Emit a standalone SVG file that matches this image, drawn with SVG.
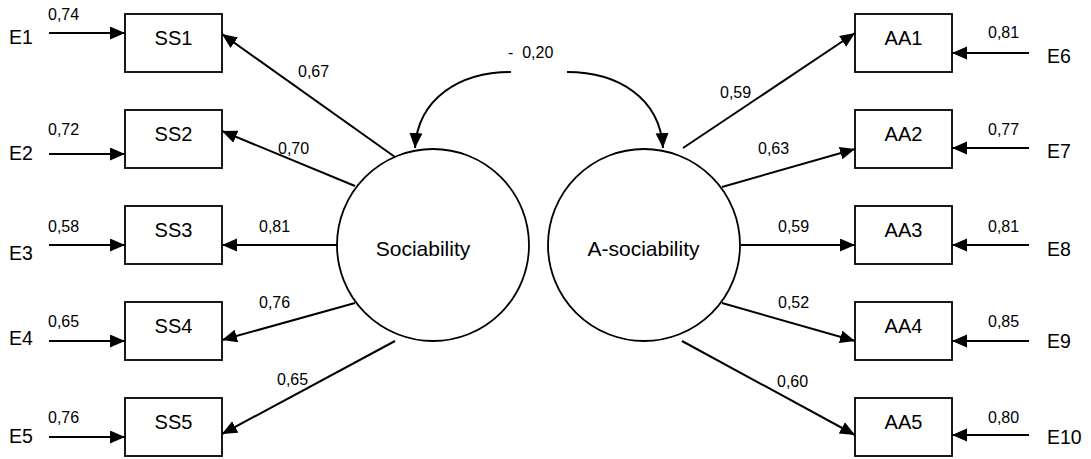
<svg xmlns="http://www.w3.org/2000/svg" width="1091" height="459" viewBox="0 0 1091 459">
<style>
  .box { fill: #fff; stroke: #000; stroke-width: 1.8; }
  .lat { fill: #fff; stroke: #000; stroke-width: 1.8; }
  .ln { fill: none; stroke: #000; stroke-width: 2; marker-end: url(#ah); }
  .t { font-family: "Liberation Sans", Arial, sans-serif; fill: #000; }
  .nl { font-size: 20px; text-anchor: middle; }
  .el { font-size: 19.5px; }
  .cl { font-size: 21px; text-anchor: middle; }
  .co { font-size: 16px; white-space: pre; }
</style>
<defs>
  <marker id="ah" markerUnits="userSpaceOnUse" markerWidth="16" markerHeight="14" refX="15" refY="6.5" orient="auto">
    <path d="M0,0 L15,6.5 L0,13 z" fill="#000"/>
  </marker>
</defs>
<rect width="1091" height="459" fill="#fff"/>

<g id="connectors">
  <!-- error arrows left -->
  <line class="ln" x1="49" y1="33" x2="125" y2="33"/>
  <line class="ln" x1="49" y1="154" x2="125" y2="154"/>
  <line class="ln" x1="49" y1="245" x2="125" y2="245"/>
  <line class="ln" x1="49" y1="341" x2="125" y2="341"/>
  <line class="ln" x1="49" y1="437" x2="125" y2="437"/>
  <!-- error arrows right -->
  <line class="ln" x1="1029" y1="53" x2="952" y2="53"/>
  <line class="ln" x1="1029" y1="148" x2="952" y2="148"/>
  <line class="ln" x1="1029" y1="245" x2="952" y2="245"/>
  <line class="ln" x1="1029" y1="341" x2="952" y2="341"/>
  <line class="ln" x1="1029" y1="435" x2="952" y2="435"/>
  <!-- loadings left -->
  <line class="ln" x1="395" y1="157" x2="222" y2="34"/>
  <line class="ln" x1="355" y1="186" x2="222" y2="131"/>
  <line class="ln" x1="337" y1="245" x2="222" y2="245"/>
  <line class="ln" x1="355" y1="303" x2="222" y2="340"/>
  <line class="ln" x1="395" y1="341" x2="222" y2="434"/>
  <!-- loadings right -->
  <line class="ln" x1="683" y1="148" x2="855" y2="33"/>
  <line class="ln" x1="722" y1="187" x2="855" y2="149"/>
  <line class="ln" x1="741" y1="245" x2="855" y2="245"/>
  <line class="ln" x1="722" y1="303" x2="855" y2="341"/>
  <line class="ln" x1="682" y1="341" x2="855" y2="435"/>
  <!-- covariance -->
  <path class="ln" d="M511,72 C460,72 418,98 415,148"/>
  <path class="ln" d="M567,72 C618,72 660,98 663,148"/>
</g>

<g id="SS1"><rect class="box" x="125" y="14" width="97" height="58"/><text class="t nl" x="173.5" y="45">SS1</text></g>
<g id="SS2"><rect class="box" x="125" y="110" width="97" height="58"/><text class="t nl" x="173.5" y="141">SS2</text></g>
<g id="SS3"><rect class="box" x="125" y="206" width="97" height="58"/><text class="t nl" x="173.5" y="237">SS3</text></g>
<g id="SS4"><rect class="box" x="125" y="302" width="97" height="58"/><text class="t nl" x="173.5" y="333">SS4</text></g>
<g id="SS5"><rect class="box" x="125" y="398" width="97" height="58"/><text class="t nl" x="173.5" y="429">SS5</text></g>

<g id="AA1"><rect class="box" x="855" y="14" width="97" height="58"/><text class="t nl" x="903.5" y="45">AA1</text></g>
<g id="AA2"><rect class="box" x="855" y="110" width="97" height="58"/><text class="t nl" x="903.5" y="141">AA2</text></g>
<g id="AA3"><rect class="box" x="855" y="206" width="97" height="58"/><text class="t nl" x="903.5" y="237">AA3</text></g>
<g id="AA4"><rect class="box" x="855" y="302" width="97" height="58"/><text class="t nl" x="903.5" y="333">AA4</text></g>
<g id="AA5"><rect class="box" x="855" y="398" width="97" height="58"/><text class="t nl" x="903.5" y="429">AA5</text></g>

<g id="Sociability"><circle class="lat" cx="433" cy="245" r="96"/><text class="t cl" x="423" y="256">Sociability</text></g>
<g id="A-sociability"><circle class="lat" cx="644" cy="245" r="96"/><text class="t cl" x="643.5" y="256">A-sociability</text></g>

<g id="errors">
  <text class="t el" x="9" y="44">E1</text>
  <text class="t el" x="9" y="160">E2</text>
  <text class="t el" x="9" y="260">E3</text>
  <text class="t el" x="9" y="345">E4</text>
  <text class="t el" x="9" y="443">E5</text>
  <text class="t el" x="1047" y="63">E6</text>
  <text class="t el" x="1047" y="158">E7</text>
  <text class="t el" x="1047" y="256">E8</text>
  <text class="t el" x="1047" y="348">E9</text>
  <text class="t el" x="1047" y="444">E10</text>
</g>

<g id="labels">
  <text class="t co" x="48" y="20">0,74</text>
  <text class="t co" x="48" y="135">0,72</text>
  <text class="t co" x="48" y="232">0,58</text>
  <text class="t co" x="48" y="327">0,65</text>
  <text class="t co" x="48" y="423">0,76</text>
  <text class="t co" x="988" y="38">0,81</text>
  <text class="t co" x="988" y="135">0,77</text>
  <text class="t co" x="988" y="232">0,81</text>
  <text class="t co" x="988" y="327">0,85</text>
  <text class="t co" x="988" y="423">0,80</text>
  <text class="t co" x="298" y="77">0,67</text>
  <text class="t co" x="278" y="154">0,70</text>
  <text class="t co" x="259" y="232">0,81</text>
  <text class="t co" x="259" y="308">0,76</text>
  <text class="t co" x="277" y="385">0,65</text>
  <text class="t co" x="720" y="98">0,59</text>
  <text class="t co" x="758" y="154">0,63</text>
  <text class="t co" x="778" y="232">0,59</text>
  <text class="t co" x="778" y="308">0,52</text>
  <text class="t co" x="777" y="387">0,60</text>
  <text class="t co" x="508" y="58">-  0,20</text>
</g>
</svg>
